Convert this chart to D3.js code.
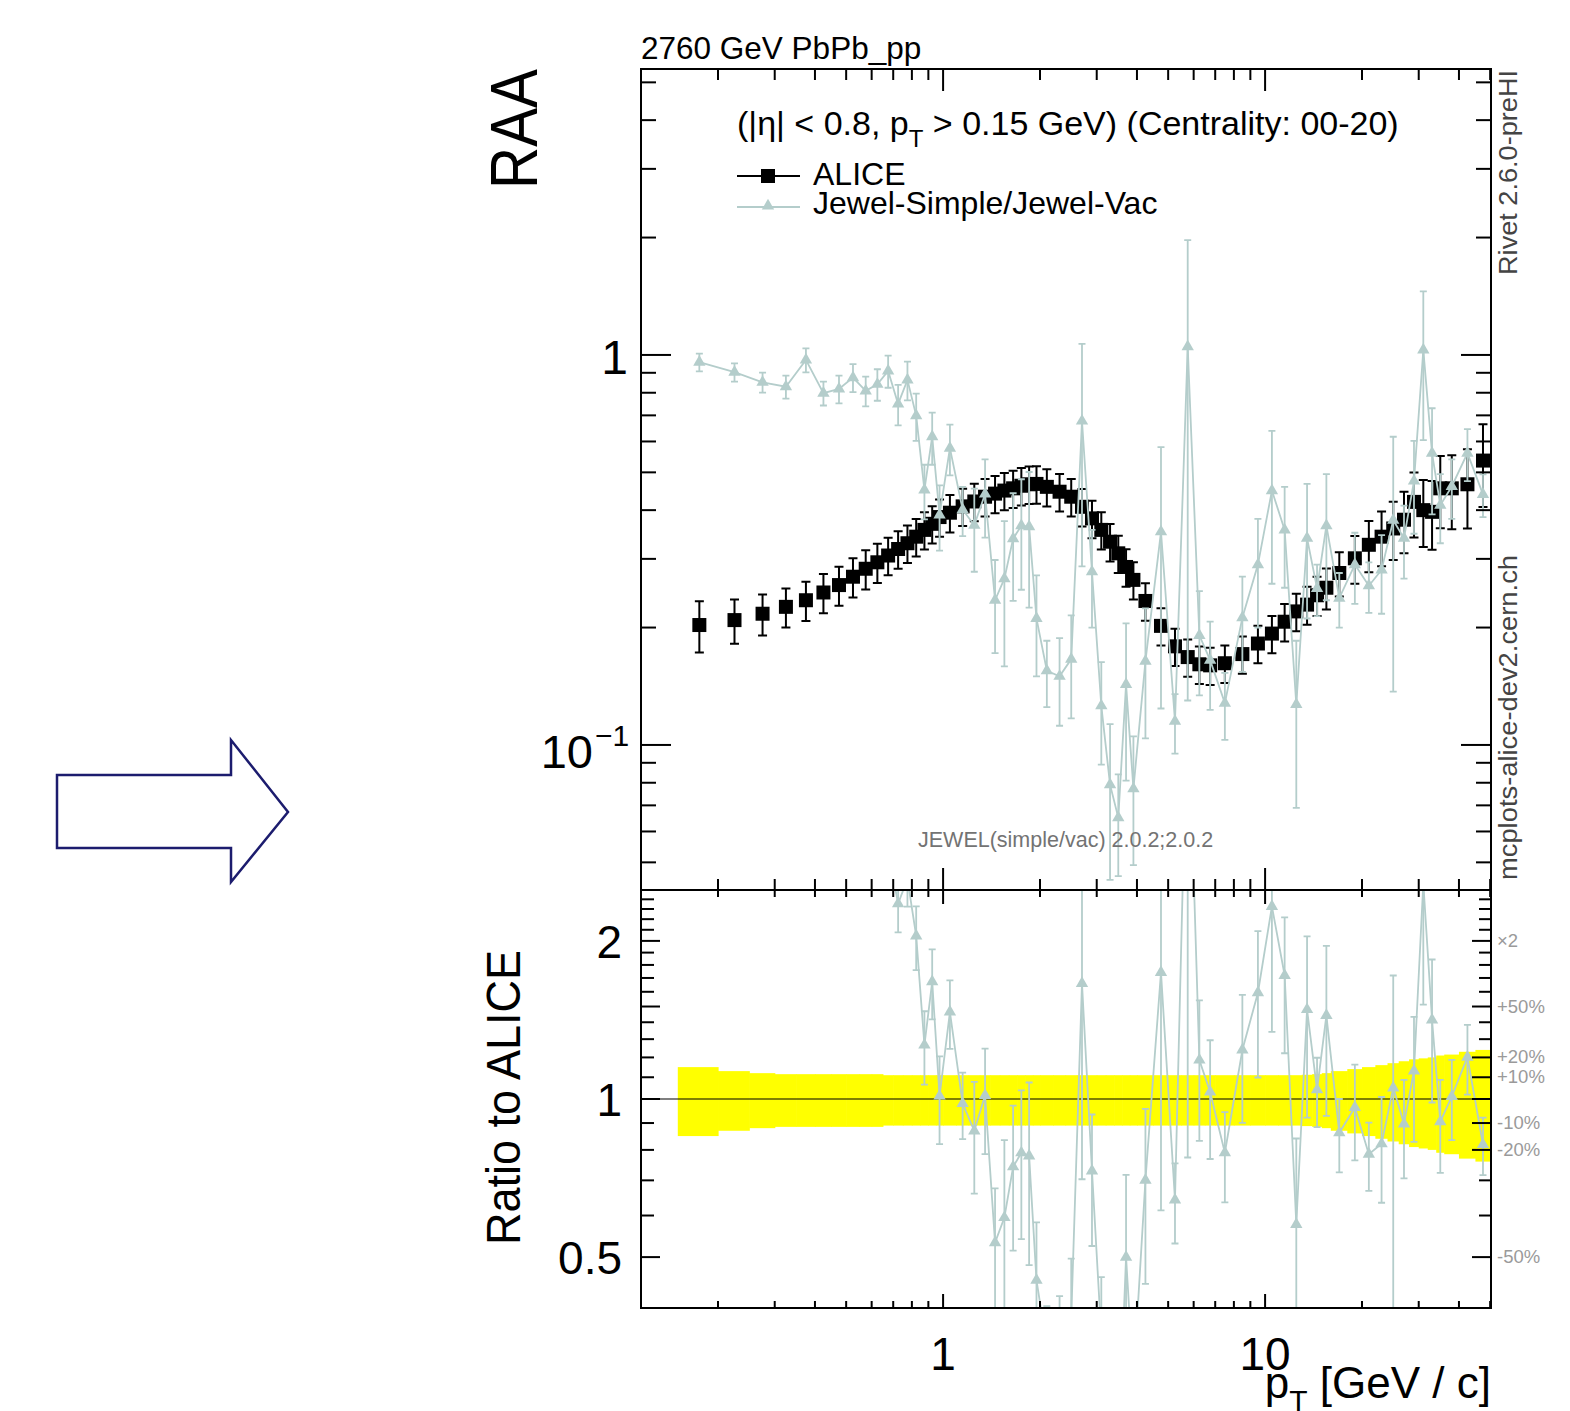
<!DOCTYPE html>
<html>
<head>
<meta charset="utf-8">
<script src="https://cdn.jsdelivr.net/npm/d3@7"></script>
<style>
  body { margin: 0; background: #fff; }
  svg { display: block; font-family: "Liberation Sans", Arial, Helvetica, sans-serif; }
</style>
</head>
<body>
<svg id="svg" width="1570" height="1411"></svg>
<script>
// pT bin edges [GeV/c], 65 bins
var ptEdges = [0.15, 0.2, 0.25, 0.3, 0.35, 0.4, 0.45, 0.5, 0.55, 0.6, 0.65, 0.7, 0.75, 0.8, 0.85, 0.9, 0.95, 1.0,
    1.1, 1.2, 1.3, 1.4, 1.5, 1.6, 1.7, 1.8, 1.9, 2.0,
    2.2, 2.4, 2.6, 2.8, 3.0, 3.2, 3.4, 3.6, 3.8, 4.0,
    4.5, 5.0, 5.5, 6.0, 6.5, 7.0,
    8, 9, 10,
    11, 12, 13, 14, 15, 16,
    18, 20, 22, 24, 26, 28, 30, 32, 34, 36,
    40, 45, 50];

var aliceRaa = [0.203, 0.209, 0.217, 0.226, 0.235, 0.246, 0.257, 0.270, 0.283, 0.294, 0.306, 0.318, 0.329, 0.342, 0.356, 0.369, 0.384,
    0.394, 0.409, 0.421, 0.433, 0.441, 0.449, 0.455, 0.462, 0.466, 0.467,
    0.459, 0.446, 0.433, 0.408, 0.381, 0.356, 0.332, 0.310, 0.286, 0.265,
    0.234, 0.202, 0.179, 0.168, 0.161, 0.160,
    0.162, 0.171, 0.182,
    0.193, 0.207, 0.220, 0.229, 0.242, 0.253,
    0.276, 0.301, 0.326, 0.342, 0.359, 0.378, 0.420, 0.400, 0.396, 0.455,
    0.455, 0.466, 0.536];

// relative uncertainty of ALICE (also the yellow band)
var aliceRelErr = [0.150, 0.130, 0.120, 0.115, 0.115, 0.115, 0.115, 0.115, 0.115, 0.115, 0.110, 0.110, 0.110, 0.110, 0.110, 0.110, 0.110,
    0.110, 0.110, 0.110, 0.110, 0.110, 0.110, 0.110, 0.110, 0.110, 0.110,
    0.110, 0.110, 0.110, 0.110, 0.110, 0.110, 0.110, 0.110, 0.110, 0.110,
    0.110, 0.110, 0.110, 0.110, 0.110, 0.110,
    0.110, 0.110, 0.110,
    0.110, 0.110, 0.110, 0.112, 0.115, 0.120,
    0.130, 0.140, 0.150, 0.160, 0.170, 0.180, 0.190, 0.195, 0.200, 0.210,
    0.215, 0.230, 0.240];

var jewelRaa = [0.958, 0.903, 0.851, 0.829, 0.971, 0.798, 0.818, 0.875, 0.809, 0.841, 0.910, 0.749, 0.863, 0.699, 0.451, 0.617, 0.389,
    0.577, 0.401, 0.366, 0.440, 0.235, 0.267, 0.338, 0.365, 0.363, 0.211,
    0.155, 0.150, 0.166, 0.677, 0.278, 0.126, 0.0791, 0.0651, 0.143, 0.0772,
    0.164, 0.352, 0.115, 1.05, 0.191, 0.165,
    0.128, 0.212, 0.290,
    0.449, 0.356, 0.127, 0.339, 0.252, 0.365,
    0.238, 0.290, 0.256, 0.281, 0.377, 0.339, 0.475, 1.03, 0.560, 0.412,
    0.460, 0.560, 0.439];

var jewelErr = [0.050, 0.049, 0.050, 0.056, 0.069, 0.056, 0.067, 0.072, 0.071, 0.078, 0.086, 0.089, 0.098, 0.097, 0.072, 0.094, 0.074,
    0.086, 0.058, 0.088, 0.100, 0.063, 0.108, 0.104, 0.115, 0.138, 0.061,
    0.030, 0.038, 0.049, 0.390, 0.078, 0.037, 0.034, 0.019, 0.062, 0.028,
    0.060, 0.228, 0.020, 0.920, 0.057, 0.042,
    0.025, 0.058, 0.090,
    0.190, 0.103, 0.058, 0.128, 0.038, 0.130,
    0.038, 0.060, 0.038, 0.064, 0.240, 0.072, 0.127, 0.425, 0.170, 0.083,
    0.080, 0.085, 0.055];

var xTickLabels = [1, 10];
var ratioTickLabels = [2, 1, 0.5];
var ratioSideValues = [2, 1.5, 1.2, 1.1, 0.9, 0.8, 0.5];
var ratioSideLabels = ['\u00d72', '+50%', '+20%', '+10%', '-10%', '-20%', '-50%'];

var svg;
var frame = { left: 641, right: 1491, top: 69, split: 890, bottom: 1308 };
var xScale, yMain, yRatio;
var bins;
var jewelColor = '#b4cdcb';

document.addEventListener('DOMContentLoaded', function() {
    svg = d3.select('#svg');

    xScale = d3.scaleLog().domain([0.1153, 50.3]).range([frame.left, frame.right]);
    yMain = d3.scaleLog().domain([0.04247, 5.41]).range([frame.split, frame.top]);
    yRatio = d3.scaleLog().domain([0.4, 2.5]).range([frame.bottom, frame.split]);

    bins = aliceRaa.map(function(v, i) {
        return {
            lo: ptEdges[i], hi: ptEdges[i + 1], pt: (ptEdges[i] + ptEdges[i + 1]) / 2,
            alice: v, aliceErr: v * aliceRelErr[i], rel: aliceRelErr[i],
            jewel: jewelRaa[i], jewelErr: jewelErr[i]
        };
    });

    drawArrow();
    drawRatio();
    drawMain();
    drawAxes();
    drawText();
});

function errPath(x, y1, y2, cap) {
    return 'M' + x + ',' + y1 + 'V' + y2 +
        'M' + (x - cap) + ',' + y1 + 'H' + (x + cap) +
        'M' + (x - cap) + ',' + y2 + 'H' + (x + cap);
}

function drawArrow() {
    svg.append('path')
        .attr('d', 'M57,775 L231,775 L231,740 L288,812 L231,882 L231,848 L57,848 Z')
        .style('fill', 'white')
        .style('stroke', '#1c1c6e')
        .style('stroke-width', 2.5);
}

function drawMain() {
    svg.append('clipPath').attr('id', 'clipMain')
        .append('rect').attr('x', frame.left).attr('y', frame.top)
        .attr('width', frame.right - frame.left).attr('height', frame.split - frame.top);

    var g = svg.append('g').attr('clip-path', 'url(#clipMain)');

    // ALICE
    g.selectAll('.aerr').data(bins).enter().append('path')
        .attr('d', function(d) {
            return errPath(xScale(d.pt), yMain(d.alice + d.aliceErr), yMain(Math.max(d.alice - d.aliceErr, 0.001)), 4.5);
        })
        .style('fill', 'none').style('stroke', 'black').style('stroke-width', 2);
    g.selectAll('.asq').data(bins).enter().append('rect')
        .attr('x', function(d) { return xScale(d.pt) - 7; })
        .attr('y', function(d) { return yMain(d.alice) - 7; })
        .attr('width', 14).attr('height', 14)
        .style('fill', 'black');

    // Jewel
    var line = d3.line()
        .x(function(d) { return xScale(d.pt); })
        .y(function(d) { return yMain(d.jewel); });
    g.append('path').datum(bins).attr('d', line)
        .style('fill', 'none').style('stroke', jewelColor).style('stroke-width', 1.8);
    g.selectAll('.jerr').data(bins).enter().append('path')
        .attr('d', function(d) {
            return errPath(xScale(d.pt), yMain(d.jewel + d.jewelErr), yMain(Math.max(d.jewel - d.jewelErr, 0.001)), 3.5);
        })
        .style('fill', 'none').style('stroke', jewelColor).style('stroke-width', 1.8);
    g.selectAll('.jtri').data(bins).enter().append('path')
        .attr('d', d3.symbol().type(d3.symbolTriangle).size(66))
        .attr('transform', function(d) { return 'translate(' + xScale(d.pt) + ',' + yMain(d.jewel) + ')'; })
        .style('fill', jewelColor);
}

function drawRatio() {
    svg.append('clipPath').attr('id', 'clipRatio')
        .append('rect').attr('x', frame.left).attr('y', frame.split)
        .attr('width', frame.right - frame.left).attr('height', frame.bottom - frame.split);

    var g = svg.append('g').attr('clip-path', 'url(#clipRatio)');

    // ALICE uncertainty band
    g.selectAll('.band').data(bins).enter().append('rect')
        .attr('x', function(d) { return xScale(d.lo); })
        .attr('width', function(d) { return xScale(d.hi) - xScale(d.lo) + 0.6; })
        .attr('y', function(d) { return yRatio(1 + d.rel); })
        .attr('height', function(d) { return yRatio(1 - d.rel) - yRatio(1 + d.rel); })
        .style('fill', '#ffff00');

    g.append('line')
        .attr('x1', frame.left).attr('x2', frame.right)
        .attr('y1', yRatio(1)).attr('y2', yRatio(1))
        .style('stroke', 'black').style('stroke-width', 1.2);

    var rat = bins.map(function(d) {
        return { pt: d.pt, r: d.jewel / d.alice, e: d.jewelErr / d.alice };
    });

    var line = d3.line()
        .x(function(d) { return xScale(d.pt); })
        .y(function(d) { return yRatio(d.r); });
    g.append('path').datum(rat).attr('d', line)
        .style('fill', 'none').style('stroke', jewelColor).style('stroke-width', 1.8);
    g.selectAll('.rerr').data(rat).enter().append('path')
        .attr('d', function(d) {
            return errPath(xScale(d.pt), yRatio(d.r + d.e), yRatio(Math.max(d.r - d.e, 0.05)), 3.5);
        })
        .style('fill', 'none').style('stroke', jewelColor).style('stroke-width', 1.8);
    g.selectAll('.rtri').data(rat).enter().append('path')
        .attr('d', d3.symbol().type(d3.symbolTriangle).size(66))
        .attr('transform', function(d) { return 'translate(' + xScale(d.pt) + ',' + yRatio(d.r) + ')'; })
        .style('fill', jewelColor);
}

function isDecade(t) {
    var l = Math.log10(t);
    return Math.abs(l - Math.round(l)) < 1e-6;
}

function drawAxes() {
    var g = svg.append('g').style('stroke', 'black').style('stroke-width', 2);

    g.append('rect').attr('x', frame.left).attr('y', frame.top)
        .attr('width', frame.right - frame.left).attr('height', frame.split - frame.top)
        .style('fill', 'none');
    g.append('rect').attr('x', frame.left).attr('y', frame.split)
        .attr('width', frame.right - frame.left).attr('height', frame.bottom - frame.split)
        .style('fill', 'none');

    // x ticks on both panels
    var xt = xScale.ticks();
    xt.forEach(function(t) {
        var x = xScale(t);
        var big = isDecade(t);
        var lm = big ? 22 : 11;
        var lr = big ? 14 : 7;
        g.append('line').attr('x1', x).attr('x2', x).attr('y1', frame.top).attr('y2', frame.top + lm);
        g.append('line').attr('x1', x).attr('x2', x).attr('y1', frame.split).attr('y2', frame.split - lm);
        g.append('line').attr('x1', x).attr('x2', x).attr('y1', frame.split).attr('y2', frame.split + lr);
        g.append('line').attr('x1', x).attr('x2', x).attr('y1', frame.bottom).attr('y2', frame.bottom - lr);
    });

    // main y ticks
    yMain.ticks().forEach(function(t) {
        var y = yMain(t);
        var len = isDecade(t) ? 30 : 15;
        g.append('line').attr('x1', frame.left).attr('x2', frame.left + len).attr('y1', y).attr('y2', y);
        g.append('line').attr('x1', frame.right).attr('x2', frame.right - len).attr('y1', y).attr('y2', y);
    });

    // ratio y ticks
    d3.range(5, 25).forEach(function(i) {
        var t = i / 10;
        var y = yRatio(t);
        var bigL = [0.5, 1, 1.5, 2].indexOf(t) >= 0;
        var bigR = bigL || ratioSideValues.indexOf(t) >= 0;
        g.append('line').attr('x1', frame.left).attr('x2', frame.left + (bigL ? 19 : 13)).attr('y1', y).attr('y2', y);
        g.append('line').attr('x1', frame.right).attr('x2', frame.right - (bigR ? 19 : 12)).attr('y1', y).attr('y2', y);
    });
}

function drawText() {
    svg.append('text').attr('x', 641).attr('y', 59)
        .style('font-size', '31.5px').text('2760 GeV PbPb_pp');

    // legend
    var hdr = svg.append('text').attr('x', 737).attr('y', 135).style('font-size', '34px');
    hdr.append('tspan').text('(|\u03b7| < 0.8, p');
    hdr.append('tspan').attr('dy', 12).style('font-size', '24px').text('T');
    hdr.append('tspan').attr('dy', -12).text(' > 0.15 GeV) (Centrality: 00-20)');

    svg.append('line').attr('x1', 737).attr('x2', 800).attr('y1', 176).attr('y2', 176)
        .style('stroke', 'black').style('stroke-width', 1.8);
    svg.append('rect').attr('x', 761).attr('y', 169).attr('width', 14).attr('height', 14).style('fill', 'black');
    svg.append('text').attr('x', 813).attr('y', 185).style('font-size', '32px').text('ALICE');

    svg.append('line').attr('x1', 737).attr('x2', 800).attr('y1', 207).attr('y2', 207)
        .style('stroke', jewelColor).style('stroke-width', 1.8);
    svg.append('path').attr('d', d3.symbol().type(d3.symbolTriangle).size(66)())
        .attr('transform', 'translate(768,206)').style('fill', jewelColor);
    svg.append('text').attr('x', 813).attr('y', 214).style('font-size', '32px').text('Jewel-Simple/Jewel-Vac');

    svg.append('text').attr('x', 918).attr('y', 847)
        .style('font-size', '21.5px').style('fill', '#737373')
        .text('JEWEL(simple/vac) 2.0.2;2.0.2');

    // axis titles
    svg.append('text').attr('transform', 'translate(537,69) rotate(-90)')
        .attr('text-anchor', 'end').attr('textLength', 120).attr('lengthAdjust', 'spacingAndGlyphs')
        .style('font-size', '66px').text('RAA');
    svg.append('text').attr('transform', 'translate(520,950) rotate(-90)')
        .attr('text-anchor', 'end').attr('textLength', 295).attr('lengthAdjust', 'spacingAndGlyphs')
        .style('font-size', '48px').text('Ratio to ALICE');

    var xt = svg.append('text').attr('x', frame.right).attr('y', 1398)
        .attr('text-anchor', 'end').style('font-size', '44px');
    xt.append('tspan').text('p');
    xt.append('tspan').attr('dy', 13).style('font-size', '30px').text('T');
    xt.append('tspan').attr('dy', -13).text(' [GeV / c]');

    // tick labels
    svg.selectAll('.xl').data(xTickLabels).enter().append('text')
        .attr('x', function(d) { return xScale(d); }).attr('y', 1370)
        .attr('text-anchor', 'middle').style('font-size', '46px')
        .text(function(d) { return d; });

    svg.append('text').attr('x', 628).attr('y', yMain(1) + 19)
        .attr('text-anchor', 'end').style('font-size', '48px').text('1');
    svg.append('text').attr('x', 593).attr('y', yMain(0.1) + 23)
        .attr('text-anchor', 'end').style('font-size', '47px').text('10');
    svg.append('text').attr('x', 595).attr('y', yMain(0.1) + 1)
        .style('font-size', '30px').text('\u22121');

    svg.selectAll('.rl').data(ratioTickLabels).enter().append('text')
        .attr('x', 622).attr('y', function(d) { return yRatio(d) + 17; })
        .attr('text-anchor', 'end').style('font-size', '46px')
        .text(function(d) { return d; });

    svg.selectAll('.rs').data(ratioSideValues).enter().append('text')
        .attr('x', 1497).attr('y', function(d) { return yRatio(d) + 6; })
        .style('font-size', '18.5px').style('fill', '#9a9a9a')
        .text(function(d, i) { return ratioSideLabels[i]; });

    // side labels
    svg.append('text').attr('transform', 'translate(1517,70) rotate(-90)')
        .attr('text-anchor', 'end').attr('textLength', 205).attr('lengthAdjust', 'spacingAndGlyphs')
        .style('font-size', '26px').style('fill', '#444').text('Rivet 2.6.0-preHI');
    svg.append('text').attr('transform', 'translate(1517,880) rotate(-90)')
        .attr('text-anchor', 'start').attr('textLength', 325).attr('lengthAdjust', 'spacingAndGlyphs')
        .style('font-size', '26px').style('fill', '#444').text('mcplots-alice-dev2.cern.ch');
}
</script>
</body>
</html>
